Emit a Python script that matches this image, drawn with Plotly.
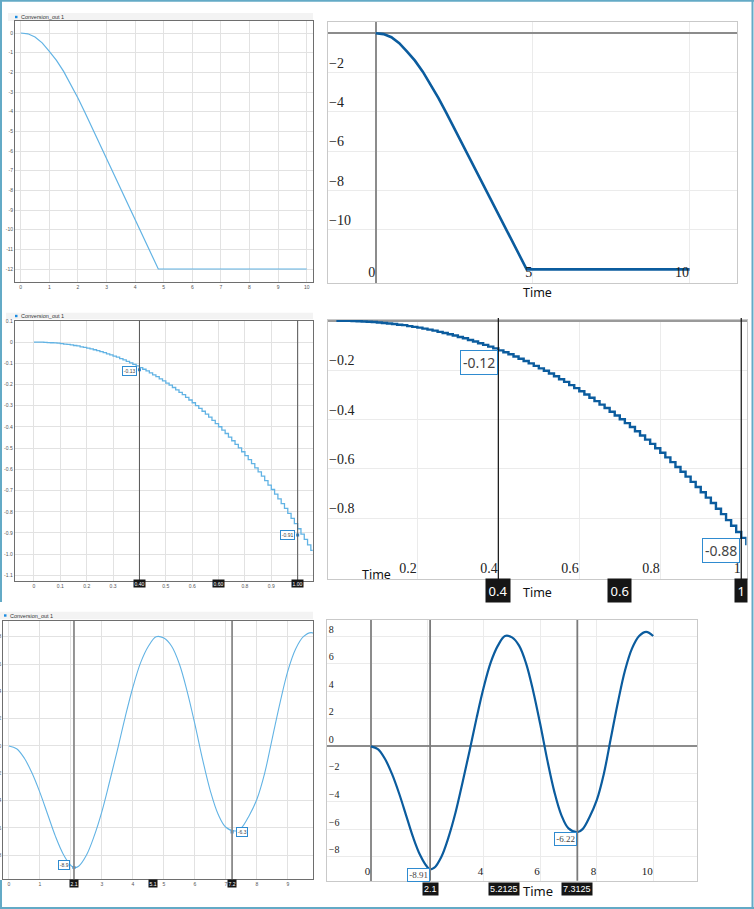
import plotly.graph_objects as go

W, H = 754, 909

# ---------------- data ----------------
# signal over 0..10 s (panels 1-2)
ramp_t = [0, 0.25, 0.5, 0.75, 1.0, 1.25, 1.5, 1.75, 2.0, 2.25, 2.5, 2.75, 3.0,
          3.25, 3.5, 3.75, 4.0, 4.25, 4.5, 4.81, 10.0]
ramp_y = [0, -0.04, -0.2, -0.5, -0.93, -1.39, -1.95, -2.6, -3.3, -4.05, -4.83,
          -5.6, -6.38, -7.15, -7.93, -8.7, -9.48, -10.25, -11.03, -12.0, -12.0]

# sampled (held) signal over 0..1 s (panels 3-4)
SAMPLE_DT = 0.0125
step_y = [0, -0.000, -0.000, -0.001, -0.002, -0.003, -0.004, -0.005, -0.007, -0.009,
          -0.011, -0.013, -0.016, -0.018, -0.022, -0.025, -0.028, -0.032, -0.036, -0.040,
          -0.045, -0.050, -0.055, -0.060, -0.066, -0.071, -0.078, -0.084, -0.091, -0.098,
          -0.105, -0.112, -0.120, -0.128, -0.136, -0.145, -0.154, -0.163, -0.173, -0.183,
          -0.193, -0.203, -0.214, -0.225, -0.237, -0.248, -0.261, -0.273, -0.286, -0.299,
          -0.312, -0.326, -0.340, -0.354, -0.369, -0.384, -0.399, -0.415, -0.431, -0.448,
          -0.465, -0.482, -0.499, -0.517, -0.535, -0.554, -0.573, -0.593, -0.612, -0.632,
          -0.653, -0.674, -0.695, -0.717, -0.739, -0.762, -0.784, -0.808, -0.831, -0.856,
          -0.880, -0.905, -0.930, -0.956, -0.982, -1.009]
step_t = [round(i * SAMPLE_DT, 4) for i in range(len(step_y))]

# oscillating signal (panels 5-6)
osc_t = [0, 0.25, 0.5, 0.75, 1.0, 1.25, 1.5, 1.75, 2.0, 2.1, 2.25, 2.5, 2.75, 3.0,
         3.25, 3.5, 3.75, 4.0, 4.25, 4.5, 4.75, 5.0, 5.25, 5.5, 5.75, 6.0, 6.25, 6.5,
         6.75, 7.0, 7.3125, 7.5, 7.75, 8.0, 8.25, 8.5, 8.75, 9.0, 9.25, 9.5, 9.75, 10.0]
osc_y = [0, -0.2, -0.9, -2.0, -3.4, -5.0, -6.6, -7.9, -8.75, -8.91, -8.8, -8.0, -6.6,
         -4.8, -2.6, -0.3, 2.1, 4.3, 6.1, 7.3, 8.0, 7.9, 7.3, 6.0, 4.0, 1.6, -1.0, -3.3,
         -5.0, -5.95, -6.22, -6.0, -5.1, -3.9, -2.0, 0.6, 3.2, 5.5, 7.1, 8.0, 8.3, 8.0]

# tick labels
p1_xticks = list(range(0, 11))
p1_yticks = list(range(0, -13, -1))
p3_xticks = [0, 0.1, 0.2, 0.3, 0.4, 0.5, 0.6, 0.7, 0.8, 0.9, 1.0]
p3_xtext = ["0", "0.1", "0.2", "0.3", "", "0.5", "0.6", "", "0.8", "0.9", ""]
p3_yticks = [0.1, 0, -0.1, -0.2, -0.3, -0.4, -0.5, -0.6, -0.7, -0.8, -0.9, -1.0, -1.1]
p3_ytext = ["0.1", "0", "-0.1", "-0.2", "-0.3", "-0.4", "-0.5", "-0.6", "-0.7", "-0.8",
            "-0.9", "-1.0", "-1.1"]
p5_xticks = list(range(0, 10))
p5_xtext = ["0", "1", "", "3", "4", "5", "6", "7", "8", "9"]
p5_yticks = [-8, -6, -4, -2, 0, 2, 4, 6, 8]
p2_xticks = [0, 5, 10]
p2_yticks = [-10, -8, -6, -4, -2]
p4_xticks = [0.2, 0.4, 0.6, 0.8, 1.0]
p4_xtext = ["0.2", "0.4", "0.6", "0.8", "1"]
p4_yticks = [-0.8, -0.6, -0.4, -0.2]
p6_xticks = [0, 2, 4, 6, 8, 10]
p6_xtext = ["0", "", "4", "6", "8", "10"]
p6_yticks = [-8, -6, -4, -2, 0, 2, 4, 6, 8]

# cursors and readouts
p3_cursors = [0.4, 1.0]; p3_cur_text = ["0.40", "0.60", "1.00"]; p3_vals = ["-0.13", "-0.91"]
p4_cursors = [0.4, 1.0]; p4_cur_text = ["0.4", "0.6", "1"]; p4_vals = ["-0.12", "-0.88"]
p5_cursors = [2.1, 7.2]; p5_cur_text = ["2.1", "5.1", "7.2"]; p5_vals = ["-8.9", "-6.3"]
p6_cursors = [2.1, 7.3125]; p6_cur_text = ["2.1", "5.2125", "7.3125"]; p6_vals = ["-8.91", "-6.22"]

LEGEND_NAME = "Conversion_out 1"

# ---------------- helpers ----------------
def px(x):
    return x / W

def py(y):
    return 1 - y / H

def dx(l, r):
    return [px(l), px(r)]

def dy(t, b):
    return [py(b), py(t)]

def neg(v):
    s = ("%g" % v)
    return s.replace("-", "\u2212")

LIGHT = "#62b3e4"
DARK = "#0b5c9e"
SANS = "Liberation Sans"
SERIF = "Liberation Serif"

def left_axis(domain, rng, tv, tt, anchor, size=5):
    return dict(domain=domain, range=rng, tickvals=tv, ticktext=tt, anchor=anchor,
                fixedrange=True, showline=True, mirror=True, linecolor="#6e6e6e",
                linewidth=1, showgrid=True, gridcolor="#e2e2e2", gridwidth=1,
                zeroline=False, ticks="", automargin=False,
                tickfont=dict(family=SANS, size=size, color="#555"))

def right_axis(domain, rng, tv, tt, anchor, pos, size, zl=False, zlw=1.5):
    return dict(domain=domain, range=rng, tickvals=tv, ticktext=tt, anchor=anchor,
                fixedrange=True, showline=True, mirror=True, linecolor="#c9c9c9",
                linewidth=1, showgrid=True, gridcolor="#ebebeb", gridwidth=1,
                zeroline=zl, zerolinecolor="#8c8c8c", zerolinewidth=zlw,
                ticks="", automargin=False, ticklabelposition=pos,
                ticklabeloverflow="allow",
                tickfont=dict(family=SERIF, size=size, color="#222"))

fig = go.Figure()

fig.add_trace(go.Scatter(x=ramp_t, y=ramp_y, xaxis="x", yaxis="y", mode="lines",
                         line=dict(color=LIGHT, width=1.2), showlegend=False))
fig.add_trace(go.Scatter(x=ramp_t, y=ramp_y, xaxis="x2", yaxis="y2", mode="lines",
                         line=dict(color=DARK, width=2.6), showlegend=False))
fig.add_trace(go.Scatter(x=step_t, y=step_y, xaxis="x3", yaxis="y3", mode="lines",
                         line=dict(color=LIGHT, width=1.3, shape="hv"), showlegend=False))
fig.add_trace(go.Scatter(x=step_t, y=step_y, xaxis="x4", yaxis="y4", mode="lines",
                         line=dict(color=DARK, width=2.4, shape="hv"), showlegend=False))
fig.add_trace(go.Scatter(x=osc_t, y=osc_y, xaxis="x5", yaxis="y5", mode="lines",
                         line=dict(color=LIGHT, width=1.1, shape="spline"), showlegend=False))
fig.add_trace(go.Scatter(x=osc_t, y=osc_y, xaxis="x6", yaxis="y6", mode="lines",
                         line=dict(color=DARK, width=2.2, shape="spline"), showlegend=False))

# readout markers on the left-hand panels
fig.add_trace(go.Scatter(x=p3_cursors, y=[float(v) for v in p3_vals], xaxis="x3", yaxis="y3",
                         mode="markers", marker=dict(color="#2a8ad8", size=3, symbol="square"),
                         showlegend=False))
fig.add_trace(go.Scatter(x=p5_cursors, y=[float(v) for v in p5_vals], xaxis="x5", yaxis="y5",
                         mode="markers", marker=dict(color="#2a8ad8", size=3, symbol="square"),
                         showlegend=False))

layout = dict(
    width=W, height=H, margin=dict(l=0, r=0, t=0, b=0),
    paper_bgcolor="white", plot_bgcolor="white", showlegend=False,
    xaxis=left_axis(dx(15, 313), [-0.2, 10.22], p1_xticks, [str(v) for v in p1_xticks], "y"),
    yaxis=left_axis(dy(21, 282), [-12.66, 0.61], p1_yticks, [str(v) for v in p1_yticks], "x"),
    xaxis3=left_axis(dx(14.7, 312.7), [-0.073, 1.057], p3_xticks, p3_xtext, "y3"),
    yaxis3=left_axis(dy(320.7, 580.7), [-1.125, 0.101], p3_yticks, p3_ytext, "x3"),
    xaxis5=left_axis(dx(3.3, 313.3), [-0.18, 9.82], p5_xticks, p5_xtext, "y5"),
    yaxis5=left_axis(dy(621, 879.3), [-9.76, 9.15], p5_yticks, [str(v) for v in p5_yticks], "x5"),
    xaxis2=right_axis(dx(328.3, 736.7), [-1.51, 11.5], p2_xticks, [neg(v) for v in p2_xticks],
                      "y2", "inside left", 14, zl=True),
    yaxis2=right_axis(dy(21.7, 282.7), [-12.68, 0.59], p2_yticks, [neg(v) for v in p2_yticks],
                      "x2", "inside top", 14, zl=True),
    xaxis4=right_axis(dx(328.3, 746.5), [-0.02, 1.013], p4_xticks, p4_xtext,
                      "y4", "inside left", 14),
    yaxis4=right_axis(dy(319.5, 579.3), [-1.048, 0.005], p4_yticks, [neg(v) for v in p4_yticks],
                      "x4", "inside top", 14, zl=True, zlw=2),
    xaxis6=right_axis(dx(327.3, 697.3), [-1.54, 11.56], p6_xticks, p6_xtext,
                      "y6", "inside left", 11, zl=True),
    yaxis6=right_axis(dy(620, 880.7), [-9.74, 9.16], p6_yticks, [neg(v) for v in p6_yticks],
                      "x6", "inside top", 10, zl=True),
)
layout["yaxis4"]["zerolinecolor"] = "#9a9a9a"

shapes = []
annotations = []

# legend strips on the left panels
for (x0, x1, y0, y1, sqx, txtx) in [(8, 313, 13, 21, 15, 19.3),
                                    (6, 313, 312.7, 319.3, 15, 19.3),
                                    (0, 313, 611.7, 619.3, 4, 8.3)]:
    shapes.append(dict(type="rect", xref="paper", yref="paper", x0=px(x0), x1=px(x1),
                       y0=py(y1), y1=py(y0), fillcolor="#f3f3f3", line=dict(width=0),
                       layer="below"))
    yc = (y0 + y1) / 2
    shapes.append(dict(type="rect", xref="paper", yref="paper", x0=px(sqx), x1=px(sqx + 2.5),
                       y0=py(yc + 1.2), y1=py(yc - 1.2), fillcolor="#1b8be0", line=dict(width=0)))
    annotations.append(dict(x=px(txtx), y=py(yc), xref="paper", yref="paper", text=LEGEND_NAME,
                            showarrow=False, xanchor="left", yanchor="middle",
                            font=dict(family=SANS, size=5.5, color="#333")))

# cursor lines
def vline(xv, xref, y_top, y_bot, color, width):
    shapes.append(dict(type="line", xref=xref, yref="paper", x0=xv, x1=xv,
                       y0=py(y_bot), y1=py(y_top), line=dict(color=color, width=width)))

for c in p3_cursors:
    vline(c, "x3", 320.7, 580.7, "#555555", 1)
for c in p4_cursors:
    vline(c, "x4", 318, 598, "#111111", 1.2)
for c in p5_cursors:
    vline(c, "x5", 621, 879.3, "#8a8a8a", 1.8)
for c in p6_cursors:
    vline(c, "x6", 620, 880.7, "#7a7a7a", 1.8)

# cursor boxes below the axes
def cursor_boxes(cursors, texts, xref, yc, size, pad, fam=SANS):
    pos = [cursors[0], (cursors[0] + cursors[1]) / 2, cursors[1]]
    for xv, t in zip(pos, texts):
        annotations.append(dict(x=xv, y=py(yc), xref=xref, yref="paper", text=t,
                                showarrow=False, xanchor="center", yanchor="middle",
                                bgcolor="#151515", borderpad=pad,
                                font=dict(family=fam, size=size, color="white")))

cursor_boxes(p3_cursors, p3_cur_text, "x3", 583.5, 5, 0.6)
cursor_boxes(p4_cursors, p4_cur_text, "x4", 590, 13, 2.5, "Noto Sans")
cursor_boxes(p5_cursors, p5_cur_text, "x5", 883.3, 5, 0.6)
cursor_boxes(p6_cursors, p6_cur_text, "x6", 888.5, 9, 1)

# value readouts
def readout(text, cx, cy, size, pad, fam=SANS):
    annotations.append(dict(x=px(cx), y=py(cy), xref="paper", yref="paper", text=text,
                            showarrow=False, xanchor="center", yanchor="middle",
                            bgcolor="white", bordercolor="#2f8bd0", borderwidth=1,
                            borderpad=pad, font=dict(family=fam, size=size, color="#444")))

readout(p3_vals[0], 129, 371, 5, 0.8)
readout(p3_vals[1], 287, 535.3, 5, 0.8)
readout(p4_vals[0], 478.8, 362, 14, 2, "Noto Sans")
readout(p4_vals[1], 720.8, 550.5, 14, 2, "Noto Sans")
readout(p5_vals[0], 64, 865, 5, 0.8)
readout(p5_vals[1], 241.7, 832, 5, 0.8)
readout(p6_vals[0], 418, 874.7, 9, 1.2, SERIF)
readout(p6_vals[1], 565.8, 838.8, 9, 1.2, SERIF)

# axis titles "Time"
for (cx, cy, sz) in [(537, 293, 12.5), (376.5, 574, 12.5), (537.5, 592, 12.5), (537.5, 891, 13)]:
    annotations.append(dict(x=px(cx), y=py(cy), xref="paper", yref="paper", text="Time",
                            showarrow=False, xanchor="center", yanchor="middle",
                            font=dict(family="Noto Sans", size=sz, color="#111")))

# outer teal frame
TEAL = "#63aac6"
for (x0, y0, x1, y1) in [(0, 0.8, 754, 0.8), (752.5, 0, 752.5, 909), (0, 908, 754, 908),
                         (1, 0, 1, 602), (1, 880, 1, 909)]:
    shapes.append(dict(type="line", xref="paper", yref="paper", x0=px(x0), x1=px(x1),
                       y0=py(y0), y1=py(y1), line=dict(color=TEAL, width=2)))

layout["shapes"] = shapes
layout["annotations"] = annotations
fig.update_layout(**layout)

fig.write_html("out.html",
               config={"displayModeBar": False, "staticPlot": False},
               post_script="document.body.style.margin='0px';"
                           "document.body.style.overflow='hidden';")
